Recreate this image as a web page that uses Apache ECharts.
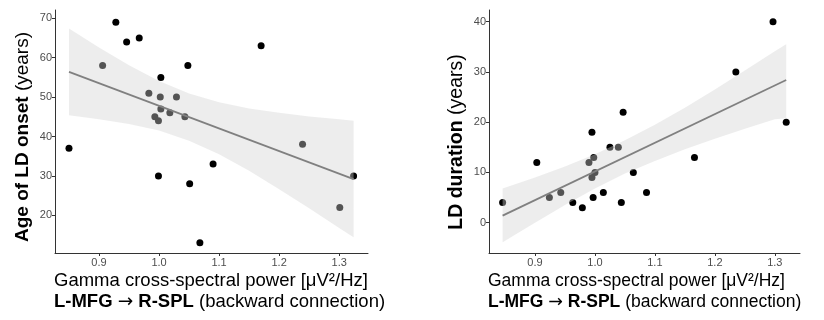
<!DOCTYPE html>
<html>
<head>
<meta charset="utf-8">
<script src="https://cdn.jsdelivr.net/npm/echarts@6/dist/echarts.min.js"></script>
<style>
  html, body { margin: 0; background: #fff; }
  #chart { width: 824px; height: 320px; }
</style>
</head>
<body>
<div id="chart"></div>
<script>
// gamma cross-spectral power vs age of LD onset (left panel)
const powerA = [0.85, 0.906, 0.928, 0.946, 0.967, 0.983, 1.002, 1.003, 1.003, 0.993, 0.999, 0.999,
  1.018, 1.029, 1.043, 1.048, 1.051, 1.068, 1.09, 1.17, 1.239, 1.301, 1.324];
const onset = [37, 58, 69, 64, 65, 51, 50, 55, 47, 45, 44, 30, 46, 50, 45, 58, 28, 13, 33, 63, 38, 22, 30];

// gamma cross-spectral power vs LD duration (right panel)
const powerB = [0.846, 0.903, 0.924, 0.943, 0.963, 0.979, 0.99, 0.995, 0.998, 0.995, 1.0, 0.997,
  1.014, 1.025, 1.039, 1.044, 1.047, 1.064, 1.086, 1.166, 1.235, 1.297, 1.319];
const duration = [4, 12, 5, 6, 4, 3, 12, 18, 13, 9, 10, 5, 6, 15, 15, 4, 22, 10, 6, 13, 30, 40, 20];

// fitted lines (end points) and confidence bands
const onsetFitX = [0.85, 1.324];
const onsetFitY = [56.4, 29.2];
const onsetBandX = [0.85, 0.9, 0.95, 1.0, 1.05, 1.1, 1.15, 1.2, 1.25, 1.3, 1.324];
const onsetLow = [45.4, 44.4, 43.2, 41.5, 38.9, 35.5, 31.3, 26.6, 21.8, 16.8, 14.4];
const onsetHigh = [67.4, 62.6, 58.1, 54.1, 50.9, 48.7, 47.1, 46.0, 45.1, 44.4, 44.0];

const durationFitX = [0.846, 1.319];
const durationFitY = [1.4, 28.4];
const durationBandX = [0.846, 0.9, 0.95, 1.0, 1.05, 1.1, 1.15, 1.2, 1.25, 1.3, 1.319];
const durationLow = [-3.9, 0.0, 3.5, 6.8, 9.8, 12.3, 14.6, 16.7, 18.7, 20.6, 20.8];
const durationHigh = [6.8, 9.0, 11.2, 13.6, 16.4, 19.5, 22.9, 26.5, 30.3, 34.1, 35.5];

// tick labels
const xTicks = [0.9, 1.0, 1.1, 1.2, 1.3];
const onsetTicks = [20, 30, 40, 50, 60, 70];
const durationTicks = [0, 10, 20, 30, 40];

const font = '"Liberation Sans", Arial, Helvetica, sans-serif';
const bandColor = 'rgba(210,210,210,0.4)';

const chart = echarts.init(document.getElementById('chart'));

function xAxisCfg(gridIndex, min, max) {
  return {
    type: 'value',
    gridIndex,
    min,
    max,
    axisLine: { onZero: false, lineStyle: { color: '#333', width: 1 } },
    axisTick: { length: 3, lineStyle: { color: '#333' }, customValues: xTicks },
    axisLabel: {
      customValues: xTicks,
      formatter: (v) => v.toFixed(1),
      color: '#4d4d4d',
      fontSize: 11,
      fontFamily: font,
      margin: 4,
    },
    splitLine: { show: false },
  };
}

function yAxisCfg(gridIndex, min, max, ticks) {
  return {
    type: 'value',
    gridIndex,
    min,
    max,
    axisLine: { show: true, onZero: false, lineStyle: { color: '#333', width: 1 } },
    axisTick: { show: true, length: 3, lineStyle: { color: '#333' }, customValues: ticks },
    axisLabel: {
      customValues: ticks,
      color: '#4d4d4d',
      fontSize: 11,
      fontFamily: font,
      margin: 3,
    },
    splitLine: { show: false },
  };
}

function bandSeries(idx, xs, lo, hi) {
  return {
    type: 'custom',
    xAxisIndex: idx,
    yAxisIndex: idx,
    data: [[xs[0], lo[0]]],
    z: 3,
    silent: true,
    renderItem: (params, api) => {
      const pts = xs.map((x, i) => api.coord([x, hi[i]]));
      for (let i = xs.length - 1; i >= 0; i--) {
        pts.push(api.coord([xs[i], lo[i]]));
      }
      return { type: 'polygon', shape: { points: pts }, style: { fill: bandColor } };
    },
  };
}

function yTitle(x, y, bold, normal, size) {
  return {
    type: 'text',
    x,
    y,
    rotation: Math.PI / 2,
    style: {
      text: '{b|' + bold + '}{n| ' + normal + '}',
      align: 'center',
      verticalAlign: 'middle',
      rich: {
        b: { fontWeight: 'bold', fontSize: size, fontFamily: font, fill: '#000' },
        n: { fontSize: size, fontFamily: font, fill: '#000' },
      },
    },
  };
}

function xTitle(x, size) {
  return [
    {
      type: 'text',
      x,
      y: 281,
      style: {
        text: 'Gamma cross-spectral power [μV²/Hz]',
        fontSize: size,
        fontFamily: font,
        fill: '#000',
        align: 'left',
        verticalAlign: 'middle',
      },
    },
    {
      type: 'text',
      x,
      y: 302,
      style: {
        text: '{b|L-MFG }{a|→}{b| R-SPL}{n| (backward connection)}',
        align: 'left',
        verticalAlign: 'middle',
        rich: {
          b: { fontWeight: 'bold', fontSize: size, fontFamily: font, fill: '#000' },
          a: { fontSize: size, fontFamily: '"DejaVu Sans", sans-serif', fill: '#000' },
          n: { fontSize: size, fontFamily: font, fill: '#000' },
        },
      },
    },
  ];
}

chart.setOption({
  animation: false,
  backgroundColor: '#fff',
  grid: [
    { left: 55, right: 456, top: 10, bottom: 67 },
    { left: 489, right: 24, top: 10, bottom: 67 },
  ],
  xAxis: [xAxisCfg(0, 0.8267, 1.348), xAxisCfg(1, 0.8233, 1.342)],
  yAxis: [yAxisCfg(0, 10.43, 72.1, onsetTicks), yAxisCfg(1, -6.03, 42.33, durationTicks)],
  series: [
    {
      type: 'scatter',
      xAxisIndex: 0,
      yAxisIndex: 0,
      symbolSize: 7,
      itemStyle: { color: '#000', opacity: 1 },
      z: 2,
      data: powerA.map((x, i) => [x, onset[i]]),
    },
    bandSeries(0, onsetBandX, onsetLow, onsetHigh),
    {
      type: 'line',
      xAxisIndex: 0,
      yAxisIndex: 0,
      symbol: 'none',
      z: 4,
      lineStyle: { color: '#808080', width: 1.8 },
      data: onsetFitX.map((x, i) => [x, onsetFitY[i]]),
    },
    {
      type: 'scatter',
      xAxisIndex: 1,
      yAxisIndex: 1,
      symbolSize: 7,
      itemStyle: { color: '#000', opacity: 1 },
      z: 2,
      data: powerB.map((x, i) => [x, duration[i]]),
    },
    bandSeries(1, durationBandX, durationLow, durationHigh),
    {
      type: 'line',
      xAxisIndex: 1,
      yAxisIndex: 1,
      symbol: 'none',
      z: 4,
      lineStyle: { color: '#808080', width: 1.8 },
      data: durationFitX.map((x, i) => [x, durationFitY[i]]),
    },
  ],
  graphic: [
    yTitle(23, 137, 'Age of LD onset', '(years)', 19),
    yTitle(457, 142, 'LD duration', '(years)', 19.5),
    ...xTitle(54, 18.5),
    ...xTitle(488, 17.5),
  ],
});
</script>
</body>
</html>
